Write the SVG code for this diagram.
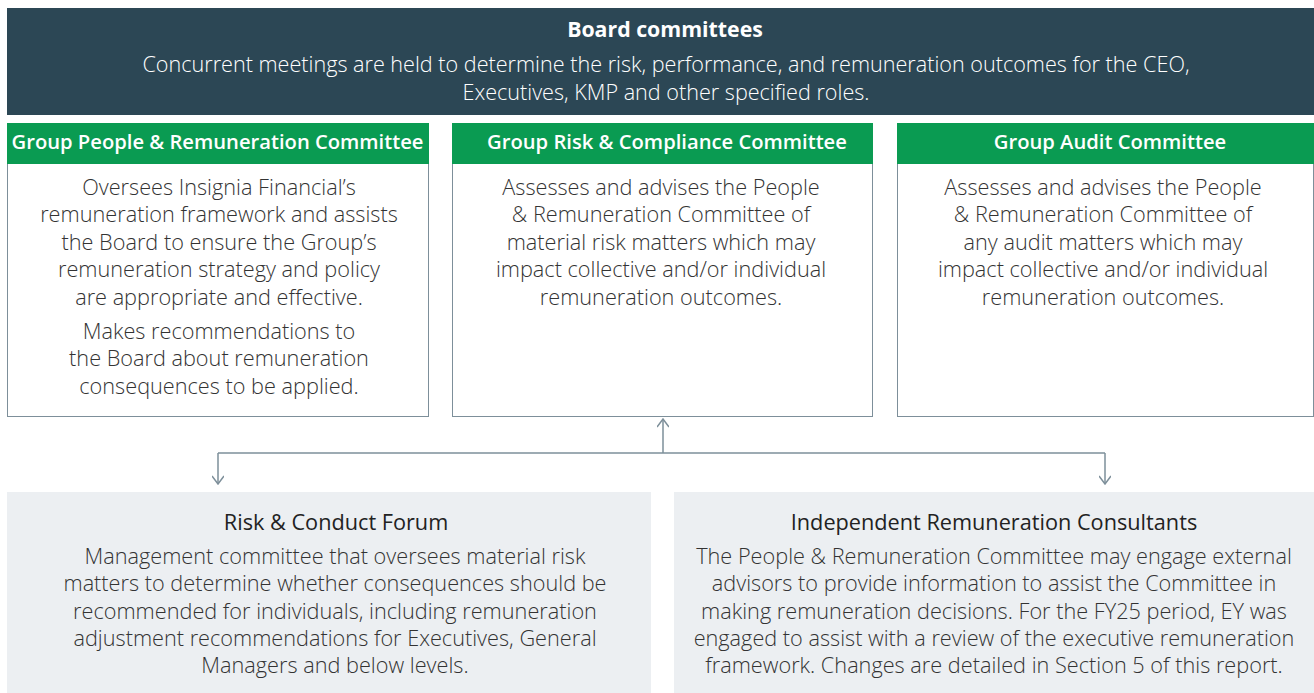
<svg xmlns="http://www.w3.org/2000/svg" width="1314" height="693" viewBox="0 0 1314 693">
<style>
  .hdr{fill:#2c4755}
  .grn{fill:#0a9b52}
  .box{fill:#ffffff;stroke:#7d8f9a;stroke-width:1}
  .sub{fill:#eceff2}
  .t{font-family:"Open Sans","Liberation Sans",sans-serif;text-anchor:middle}
  .h1{font-size:21.3px;font-weight:700;fill:#ffffff}
  .h2{font-size:21.6px;font-weight:300;fill:#ffffff}
  .gt{font-size:20.2px;font-weight:600;fill:#ffffff}
  .b{font-size:21.7px;font-weight:300;fill:#333333}
  .st{font-size:21.7px;font-weight:400;fill:#222222}
  .con{fill:none;stroke:#7d8f9a;stroke-width:1.5}
</style>
<defs>
  <marker id="arr" viewBox="0 0 12 12" refX="11" refY="6" markerWidth="12" markerHeight="12" markerUnits="userSpaceOnUse" orient="auto">
    <path d="M3,0 L11,6 L3,12" fill="none" stroke="#7d8f9a" stroke-width="1.5"/>
  </marker>
</defs>
<rect width="1314" height="693" fill="#ffffff"/>

<g id="board">
  <rect class="hdr" x="7" y="8" width="1307" height="107"/>
  <text class="t h1" x="665" y="37">Board committees</text>
  <text class="t h2" x="666" y="72">Concurrent meetings are held to determine the risk, performance, and remuneration outcomes for the CEO,</text>
  <text class="t h2" x="666" y="99.5">Executives, KMP and other specified roles.</text>
</g>

<g id="people">
  <rect class="box" x="7.5" y="123.5" width="421" height="293"/>
  <rect class="grn" x="7" y="123" width="422" height="41"/>
  <text class="t gt" x="217.5" y="149">Group People &amp; Remuneration Committee</text>
  <text class="t b" x="219" y="195">Oversees Insignia Financial’s</text>
  <text class="t b" x="219" y="222">remuneration framework and assists</text>
  <text class="t b" x="219" y="250">the Board to ensure the Group’s</text>
  <text class="t b" x="219" y="277">remuneration strategy and policy</text>
  <text class="t b" x="219" y="305">are appropriate and effective.</text>
  <text class="t b" x="219" y="339">Makes recommendations to</text>
  <text class="t b" x="219" y="366">the Board about remuneration</text>
  <text class="t b" x="219" y="394">consequences to be applied.</text>
</g>

<g id="risk">
  <rect class="box" x="452.5" y="123.5" width="420" height="293"/>
  <rect class="grn" x="452" y="123" width="421" height="41"/>
  <text class="t gt" x="667" y="149">Group Risk &amp; Compliance Committee</text>
  <text class="t b" x="661" y="195">Assesses and advises the People</text>
  <text class="t b" x="661" y="222">&amp; Remuneration Committee of</text>
  <text class="t b" x="661" y="250">material risk matters which may</text>
  <text class="t b" x="661" y="277">impact collective and/or individual</text>
  <text class="t b" x="661" y="305">remuneration outcomes.</text>
</g>

<g id="audit">
  <rect class="box" x="897.5" y="123.5" width="416" height="293"/>
  <rect class="grn" x="897" y="123" width="417" height="41"/>
  <text class="t gt" x="1110" y="149">Group Audit Committee</text>
  <text class="t b" x="1103" y="195">Assesses and advises the People</text>
  <text class="t b" x="1103" y="222">&amp; Remuneration Committee of</text>
  <text class="t b" x="1103" y="250">any audit matters which may</text>
  <text class="t b" x="1103" y="277">impact collective and/or individual</text>
  <text class="t b" x="1103" y="305">remuneration outcomes.</text>
</g>

<g id="connectors">
  <path class="con" d="M218,453 H1105"/>
  <path class="con" d="M663,453 V419" marker-end="url(#arr)"/>
  <path class="con" d="M218,453 V484" marker-end="url(#arr)"/>
  <path class="con" d="M1105,453 V484" marker-end="url(#arr)"/>
</g>

<g id="forum">
  <rect class="sub" x="7" y="492" width="644" height="201"/>
  <text class="t st" x="336" y="530">Risk &amp; Conduct Forum</text>
  <text class="t b" x="335" y="564">Management committee that oversees material risk</text>
  <text class="t b" x="335" y="591">matters to determine whether consequences should be</text>
  <text class="t b" x="335" y="619">recommended for individuals, including remuneration</text>
  <text class="t b" x="335" y="646">adjustment recommendations for Executives, General</text>
  <text class="t b" x="335" y="673">Managers and below levels.</text>
</g>

<g id="consultants">
  <rect class="sub" x="674" y="492" width="640" height="201"/>
  <text class="t st" x="994" y="530">Independent Remuneration Consultants</text>
  <text class="t b" x="994" y="564">The People &amp; Remuneration Committee may engage external</text>
  <text class="t b" x="994" y="591">advisors to provide information to assist the Committee in</text>
  <text class="t b" x="994" y="619">making remuneration decisions. For the FY25 period, EY was</text>
  <text class="t b" x="994" y="646">engaged to assist with a review of the executive remuneration</text>
  <text class="t b" x="994" y="673">framework. Changes are detailed in Section 5 of this report.</text>
</g>
</svg>
